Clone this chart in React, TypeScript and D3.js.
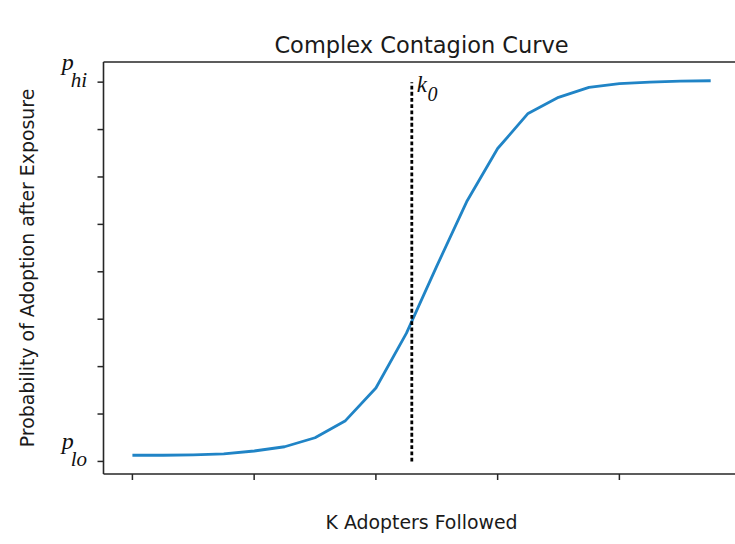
import React from "react";
import * as d3 from "d3";

// Adoption probability for each count of followed adopters (k = 0..19)
const kValues: number[] = [0, 1, 2, 3, 4, 5, 6, 7, 8, 9, 10, 11, 12, 13, 14, 15, 16, 17, 18, 19];
const adoption: number[] = [
  0.13, 0.13, 0.14, 0.16, 0.22, 0.31, 0.5, 0.86, 1.55, 2.7,
  4.12, 5.5, 6.6, 7.34, 7.68, 7.89, 7.97, 8.0, 8.02, 8.03,
];
const xTicks: number[] = [0, 4, 8, 12, 16];
const yTicks: number[] = [0, 1, 2, 3, 4, 5, 6, 7, 8];
const yTickLabels: { value: number; base: string; sub: string }[] = [
  { value: 0, base: "p", sub: "lo" },
  { value: 8, base: "p", sub: "hi" },
];
const thresholdK = 9.18;
const thresholdSpan: [number, number] = [0, 8];

const W = 735;
const H = 544;
const plot = { left: 103.5, right: 739.6, top: 62, bottom: 474 };

export default function App() {
  const xExt = d3.extent(kValues) as [number, number];
  const yExt = d3.extent(adoption) as [number, number];
  const xPad = (xExt[1] - xExt[0]) * 0.05;
  const yPad = (yExt[1] - yExt[0]) * 0.05;

  const x = d3.scaleLinear().domain([xExt[0] - xPad, xExt[1] + xPad]).range([plot.left, plot.right]);
  const y = d3.scaleLinear().domain([yExt[0] - yPad, yExt[1] + yPad]).range([plot.bottom, plot.top]);

  const line = d3
    .line<number>()
    .x((_, i) => x(kValues[i]))
    .y((d) => y(d));

  const axisColor = "#262626";
  const sans = "'DejaVu Sans', sans-serif";
  const mathFont = "'Liberation Serif', 'DejaVu Serif', serif";
  const midY = (plot.top + plot.bottom) / 2;
  const midX = (plot.left + plot.right) / 2;

  return (
    <div style={{ position: "fixed", left: 0, top: 0 }}>
      <svg width={W} height={H} viewBox={`0 0 ${W} ${H}`} style={{ display: "block", background: "#fff" }}>
        <rect x={0} y={0} width={W} height={H} fill="#fff" />

        {/* title */}
        <text x={midX} y={53} textAnchor="middle" fontFamily={sans} fontSize={22.5} fill="#1a1a1a">
          Complex Contagion Curve
        </text>

        {/* curve */}
        <path d={line(adoption) ?? ""} fill="none" stroke="#2084c6" strokeWidth={2.8} strokeLinejoin="round" />

        {/* threshold k0 */}
        <line
          x1={x(thresholdK)}
          x2={x(thresholdK)}
          y1={y(thresholdSpan[0])}
          y2={y(thresholdSpan[1])}
          stroke="#000"
          strokeWidth={2.8}
          strokeDasharray="3.8,2.4"
        />
        <text x={x(thresholdK) + 5} y={92} fontFamily={mathFont} fontStyle="italic" fontSize={23} fill="#111">
          k
          <tspan dx={0.5} dy={9} fontSize={20}>
            0
          </tspan>
        </text>

        {/* spines */}
        <line x1={plot.left} x2={plot.left} y1={plot.top} y2={plot.bottom} stroke={axisColor} strokeWidth={1.6} />
        <line x1={plot.left} x2={plot.right} y1={plot.bottom} y2={plot.bottom} stroke={axisColor} strokeWidth={1.6} />
        <line x1={plot.left} x2={plot.right} y1={plot.top} y2={plot.top} stroke={axisColor} strokeWidth={1.6} />
        <line x1={plot.right} x2={plot.right} y1={plot.top} y2={plot.bottom} stroke={axisColor} strokeWidth={1.6} />

        {/* x ticks */}
        {xTicks.map((t) => (
          <line key={`xt${t}`} x1={x(t)} x2={x(t)} y1={plot.bottom} y2={plot.bottom + 6} stroke={axisColor} strokeWidth={1.5} />
        ))}

        {/* y ticks */}
        {yTicks.map((t) => (
          <line key={`yt${t}`} x1={plot.left - 6} x2={plot.left} y1={y(t)} y2={y(t)} stroke={axisColor} strokeWidth={1.5} />
        ))}
        {yTickLabels.map((l) => (
          <text
            key={`yl${l.value}`}
            x={87}
            y={y(l.value) - 12}
            textAnchor="end"
            fontFamily={mathFont}
            fontStyle="italic"
            fontSize={24}
            fill="#111"
          >
            <tspan>{l.base}</tspan>
            <tspan dy={17} dx={-3} fontSize={21}>
              {l.sub}
            </tspan>
          </text>
        ))}

        {/* axis labels */}
        <text x={midX} y={529} textAnchor="middle" fontFamily={sans} fontSize={18.9} fill="#1a1a1a">
          K Adopters Followed
        </text>
        <text
          transform={`translate(34, ${midY}) rotate(-90)`}
          textAnchor="middle"
          fontFamily={sans}
          fontSize={18.9}
          fill="#1a1a1a"
        >
          Probability of Adoption after Exposure
        </text>
      </svg>
    </div>
  );
}
